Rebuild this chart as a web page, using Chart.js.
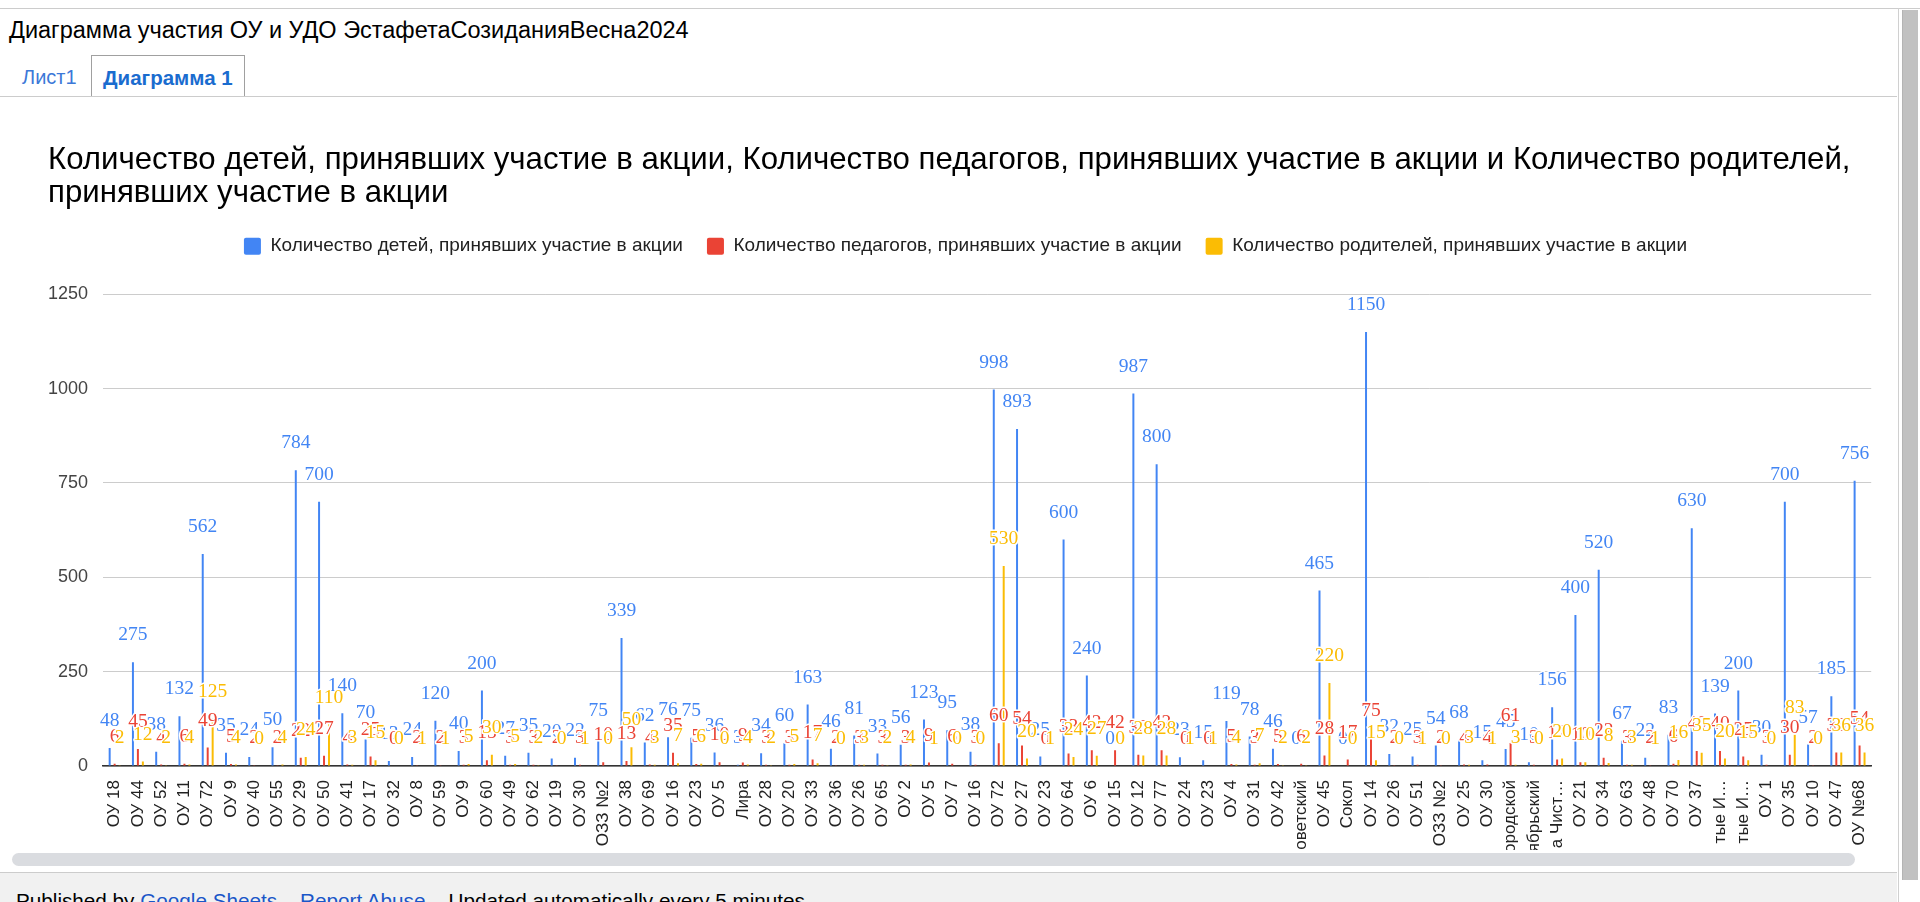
<!DOCTYPE html>
<html lang="ru">
<head>
<meta charset="utf-8">
<title>Диаграмма участия ОУ и УДО ЭстафетаСозиданияВесна2024</title>
<script src="https://cdn.jsdelivr.net/npm/chart.js@4.4.1/dist/chart.umd.min.js"></script>
<style>
  html, body { margin: 0; padding: 0; background: #fff; }
  body { width: 1920px; height: 902px; overflow: hidden; position: relative; font-family: "Liberation Sans", Arial, sans-serif; }
  .abs { position: absolute; }
  #docTitle { left: 9px; top: 19px; font-size: 23.5px; line-height: 23.5px; color: #000; white-space: nowrap; }
  #tab1 { left: 22px; top: 67px; font-size: 20px; line-height: 20px; color: #3c78d8; white-space: nowrap; }
  #tab2 { left: 91px; top: 55px; width: 154px; height: 41px; border: 1px solid #a0a0a0; border-bottom: none; background: #fff; box-sizing: border-box; }
  #tab2 span { position: absolute; left: 11px; top: 12px; font-size: 20.5px; line-height: 20.5px; font-weight: bold; color: #1a6ccf; white-space: nowrap; }
  #chartBox { left: 48px; top: 100px; width: 1838px; height: 750px; }
  #footer { left: 0; top: 872px; width: 1897px; height: 30px; background: #f1f1f1; border-top: 1px solid #ccc; overflow: hidden; }
  #footer div { position: absolute; left: 16px; top: 18px; font-size: 20.7px; line-height: 20.7px; color: #000; white-space: nowrap; }
  #footer a { color: #1a56c8; text-decoration: none; }
</style>
</head>
<body>
<div class="abs" style="left:0;top:8px;width:1920px;height:1px;background:#ccc"></div>
<div class="abs" id="docTitle">Диаграмма участия ОУ и УДО ЭстафетаСозиданияВесна2024</div>
<div class="abs" id="tab1">Лист1</div>
<div class="abs" id="tab2"><span>Диаграмма 1</span></div>
<div class="abs" style="left:0;top:96px;width:1897px;height:1px;background:#ccc"></div>
<div class="abs" id="chartBox"><canvas id="chart" width="1838" height="750"></canvas></div>
<div class="abs" style="left:12px;top:853px;width:1843px;height:13px;border-radius:7px;background:#dadce0"></div>
<div class="abs" id="footer"><div>Published by <a href="#">Google Sheets</a> – <a href="#">Report Abuse</a> – Updated automatically every 5 minutes</div></div>
<div class="abs" style="left:1898px;top:8px;width:1px;height:894px;background:#d0d0d0"></div>
<div class="abs" style="left:1902px;top:10px;width:16px;height:870px;background:#c1c1c1;box-sizing:border-box;border-left:1px solid #b4b4b4"></div>
<script>
// ---- data ----
const categories = [
  "ОУ 18","ОУ 44","ОУ 52","ОУ 11","ОУ 72","ОУ 9","ОУ 40","ОУ 55","ОУ 29","ОУ 50",
  "ОУ 41","ОУ 17","ОУ 32","ОУ 8","ОУ 59","ОУ 9","ОУ 60","ОУ 49","ОУ 62","ОУ 19",
  "ОУ 30","ОЗЗ №2","ОУ 38","ОУ 69","ОУ 16","ОУ 23","ОУ 5","Лира","ОУ 28","ОУ 20",
  "ОУ 33","ОУ 36","ОУ 26","ОУ 65","ОУ 2","ОУ 5","ОУ 7","ОУ 16","ОУ 72","ОУ 27",
  "ОУ 23","ОУ 64","ОУ 6","ОУ 15","ОУ 12","ОУ 77","ОУ 24","ОУ 23","ОУ 4","ОУ 31",
  "ОУ 42","оветский","ОУ 45","Сокол","ОУ 14","ОУ 26","ОУ 51","ОЗЗ №2","ОУ 25","ОУ 30",
  "ородской","ябрьский","а Чист…","ОУ 21","ОУ 34","ОУ 63","ОУ 48","ОУ 70","ОУ 37","тые И…",
  "тые И…","ОУ 1","ОУ 35","ОУ 10","ОУ 47","ОУ №68"
];
const childrenValues = [
  48,275,38,132,562,35,24,50,784,700,
  140,70,13,24,120,40,200,27,35,20,
  22,75,339,62,76,75,36,3,34,60,
  163,46,81,33,56,123,95,38,998,893,
  25,600,240,0,987,800,23,15,119,78,
  46,0,465,0,1150,32,25,54,68,15,
  45,10,156,400,520,67,22,83,630,139,
  200,30,700,57,185,756
];
const teachersValues = [
  6,45,4,6,49,5,2,2,22,27,
  4,25,0,2,2,3,15,3,3,2,
  3,10,13,4,35,5,10,9,3,3,
  17,2,3,3,3,9,6,3,60,54,
  0,33,42,42,30,42,0,0,5,3,
  5,6,28,17,75,2,3,2,4,4,
  61,3,17,10,22,3,2,6,40,40,
  25,3,30,2,36,54
];
const parentsValues = [
  2,12,2,4,125,4,0,4,24,110,
  3,15,0,1,1,5,30,5,2,0,
  1,0,50,3,7,6,0,4,2,5,
  7,0,3,2,4,1,0,0,530,20,
  1,24,27,0,28,28,1,1,4,7,
  2,2,220,0,15,0,1,0,3,1,
  3,0,20,10,8,3,1,16,35,20,
  15,0,83,0,36,36
];
const seriesNames = [
  "Количество детей, принявших участие в акции",
  "Количество педагогов, принявших участие в акции",
  "Количество родителей, принявших участие в акции"
];
const seriesColors = ["#4285f4", "#ea4335", "#fbbc04"];
const chartTitleLines = [
  "Количество детей, принявших участие в акции, Количество педагогов, принявших участие в акции и Количество родителей,",
  "принявших участие в акции"
];
const yTickValues = [0, 250, 500, 750, 1000, 1250];

// ---- value labels plugin ----
const valueLabels = {
  id: 'valueLabels',
  afterDatasetsDraw(chart) {
    const ctx = chart.ctx;
    ctx.save();
    ctx.font = '19.5px "Liberation Serif", "Times New Roman", serif';
    ctx.textAlign = 'center';
    ctx.textBaseline = 'middle';
    ctx.lineJoin = 'round';
    chart.data.datasets.forEach((ds, di) => {
      const meta = chart.getDatasetMeta(di);
      meta.data.forEach((bar, i) => {
        const txt = String(ds.data[i]);
        const y = bar.y - 27;
        ctx.lineWidth = 3;
        ctx.strokeStyle = '#ffffff';
        ctx.strokeText(txt, bar.x, y);
        ctx.fillStyle = ds.backgroundColor;
        ctx.fillText(txt, bar.x, y);
      });
    });
    ctx.restore();
  }
};

const allSeries = [childrenValues, teachersValues, parentsValues];
const datasets = allSeries.map((vals, k) => ({
  label: seriesNames[k],
  data: vals,
  backgroundColor: seriesColors[k],
  borderWidth: 0,
  categoryPercentage: 0.64,
  barPercentage: 0.4
}));

const FONT = '"Liberation Sans", Arial, sans-serif';

new Chart(document.getElementById('chart'), {
  type: 'bar',
  data: { labels: categories, datasets },
  options: {
    responsive: false,
    animation: false,
    devicePixelRatio: 1,
    layout: { padding: { left: 0, right: 3, top: 0, bottom: 0 } },
    plugins: {
      title: {
        display: true,
        text: chartTitleLines,
        align: 'start',
        color: '#000',
        font: { family: FONT, size: 31.2, weight: 'normal', lineHeight: 1.06 },
        padding: { top: 44, bottom: 2.5 }
      },
      legend: {
        position: 'top',
        align: 'center',
        labels: {
          boxWidth: 17,
          boxHeight: 17,
          padding: 24,
          color: '#222',
          font: { family: FONT, size: 19 },
          useBorderRadius: true,
          borderRadius: 2
        }
      },
      tooltip: { enabled: false }
    },
    scales: {
      x: {
        type: 'category',
        offset: true,
        grid: { display: false },
        border: { display: true, color: '#333', width: 1.5 },
        ticks: {
          autoSkip: false,
          minRotation: 90,
          maxRotation: 90,
          padding: 6,
          color: '#222',
          font: { family: FONT, size: 17 }
        },
        afterFit: (s) => { s.height = 84; }
      },
      y: {
        min: 0,
        max: 1326,
        grid: { color: '#cccccc', drawTicks: false },
        border: { display: false },
        ticks: {
          stepSize: 250,
          includeBounds: false,
          padding: 15,
          color: '#444',
          font: { family: FONT, size: 18 },
          callback: (v) => yTickValues.includes(v) ? String(v) : ''
        },
        afterFit: (s) => { s.width = 55; }
      }
    }
  },
  plugins: [valueLabels]
});
</script>
</body>
</html>
